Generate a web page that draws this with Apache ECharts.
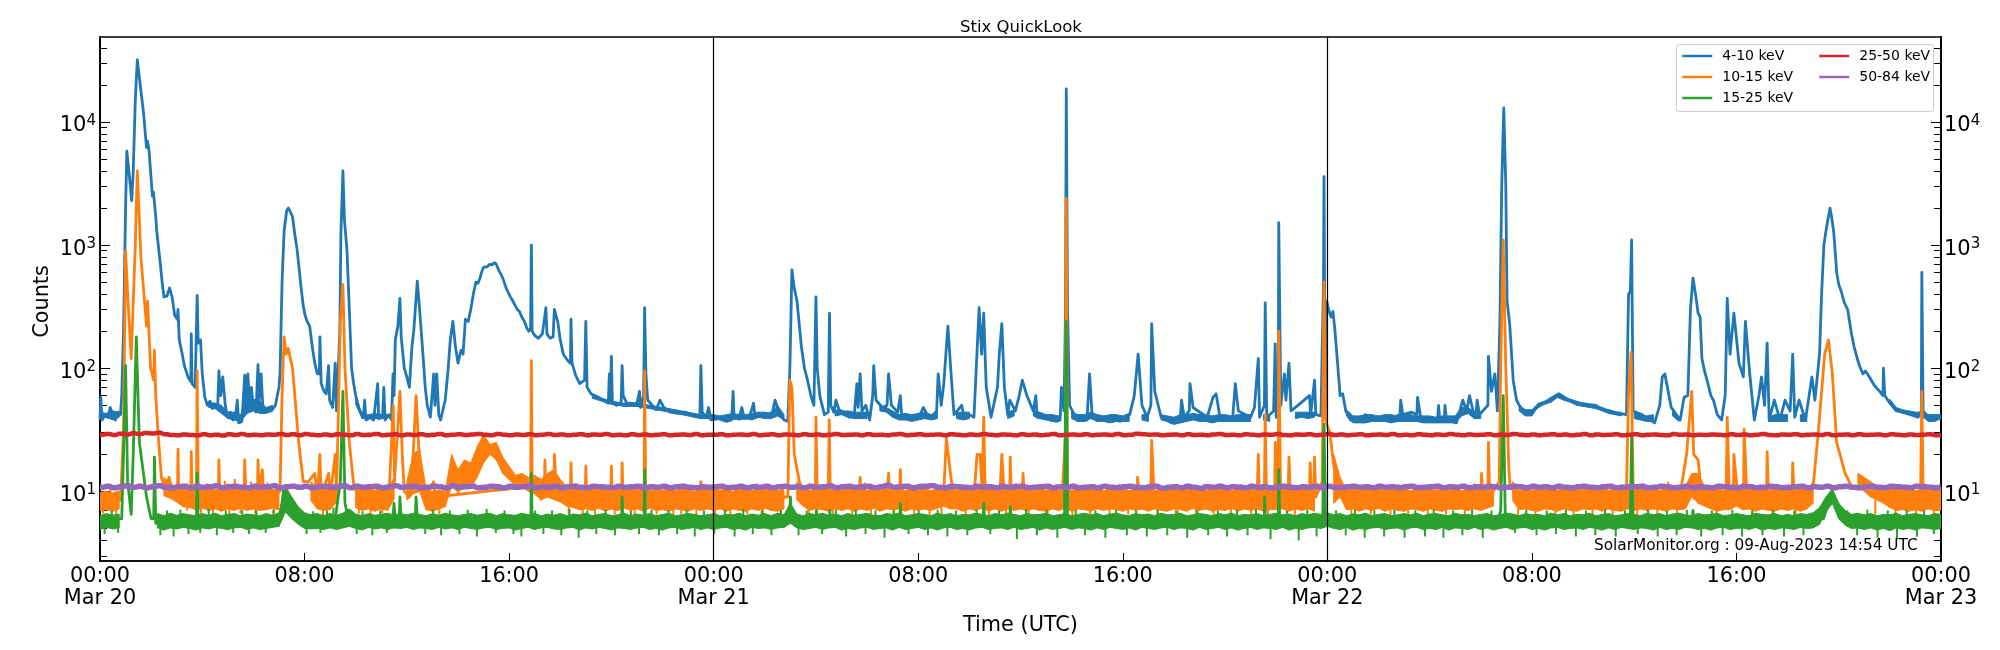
<!DOCTYPE html>
<html>
<head>
<meta charset="utf-8">
<script src="https://cdn.jsdelivr.net/npm/echarts@6/dist/echarts.min.js"></script>
<style>html,body{margin:0;padding:0;background:#fff}#chart{width:2000px;height:650px}</style>
</head>
<body>
<div id="chart"></div>
<script>
var seriesNames = ['4-10 keV', '10-15 keV', '15-25 keV', '25-50 keV', '50-84 keV'];
var seriesColors = ['#1f77b4', '#ff7f0e', '#2ca02c', '#d62728', '#9467bd'];
var hourTicks = [0, 8, 16, 24, 32, 40, 48, 56, 64, 72];
var hourLabels = ['00:00\nMar 20', '08:00', '16:00', '00:00\nMar 21', '08:00', '16:00', '00:00\nMar 22', '08:00', '16:00', '00:00\nMar 23'];
var dayLines = [24, 48];
var yMajorTicks = [10, 100, 1000, 10000];
var yMinorTicks = [3, 4, 5, 6, 7, 8, 9, 20, 30, 40, 50, 60, 70, 80, 90, 200, 300, 400, 500, 600, 700, 800, 900,
  2000, 3000, 4000, 5000, 6000, 7000, 8000, 9000, 20000, 30000, 40000];

// hour since Mar 20 00:00, counts
var blueTrace = [
  [0,38],[0.03,58],[0.08,38],[0.2,42],[0.3,40],[0.4,48],[0.5,42],[0.6,38],[0.7,44],[0.8,42],[0.85,60],[0.92,200],[1.0,2000],[1.05,5800],[1.12,4200],[1.24,2300],[1.3,4000],[1.38,15000],[1.46,32000],[1.55,22000],[1.7,12000],[1.82,6200],[1.86,7000],[1.92,5800],[2.05,2500],[2.09,2700],[2.13,2200],[2.18,1700],[2.22,1300],[2.28,1000],[2.36,700],[2.43,500],[2.5,380],[2.56,375],[2.62,385],[2.72,450],[2.82,380],[2.92,270],[3.02,250],[3.05,300],[3.1,170],[3.2,135],[3.3,105],[3.44,85],[3.55,78],[3.57,190],[3.6,75],[3.72,70],[3.8,390],[3.84,160],[3.93,170],[4.0,90],[4.1,58],[4.2,50],[4.3,54],[4.4,47],[4.5,50],[4.6,48],[4.65,95],[4.72,60],[4.8,85],[4.9,50],[4.97,42],[5.1,44],[5.2,38],[5.3,40],[5.37,55],[5.42,36],[5.55,37],[5.66,88],[5.7,48],[5.78,90],[5.85,50],[5.92,70],[6.0,48],[6.1,44],[6.18,107],[6.22,52],[6.3,90],[6.38,44],[6.5,46],[6.7,45],[6.86,50],[7.0,70],[7.04,90],[7.12,500],[7.2,1300],[7.3,1900],[7.37,2000],[7.45,1850],[7.53,1700],[7.6,1300],[7.7,950],[7.77,700],[7.85,480],[7.95,320],[8.02,270],[8.1,240],[8.2,220],[8.3,150],[8.4,110],[8.5,90],[8.58,90],[8.6,180],[8.65,75],[8.76,65],[8.85,62],[8.94,105],[8.98,55],[9.1,48],[9.2,110],[9.25,45],[9.38,200],[9.42,1200],[9.5,4000],[9.56,1600],[9.66,900],[9.75,300],[9.84,100],[9.92,75],[10.0,60],[10.15,46],[10.3,40],[10.35,55],[10.4,38],[10.55,40],[10.7,38],[10.86,75],[10.9,39],[11.05,40],[11.1,70],[11.15,38],[11.3,42],[11.4,38],[11.46,90],[11.5,60],[11.55,170],[11.65,220],[11.73,370],[11.78,180],[11.9,100],[12.0,85],[12.1,70],[12.2,150],[12.27,200],[12.41,510],[12.5,300],[12.63,130],[12.72,70],[12.8,50],[12.92,40],[13.05,90],[13.1,50],[13.17,90],[13.25,42],[13.32,38],[13.5,55],[13.6,90],[13.7,170],[13.8,240],[13.9,150],[14.0,110],[14.12,140],[14.2,130],[14.29,250],[14.4,240],[14.5,300],[14.6,400],[14.7,500],[14.78,490],[14.85,530],[14.92,600],[15.0,660],[15.06,680],[15.15,670],[15.25,700],[15.33,690],[15.42,720],[15.5,700],[15.6,620],[15.7,570],[15.78,520],[15.88,450],[15.95,420],[16.05,380],[16.15,350],[16.25,320],[16.32,300],[16.4,290],[16.5,260],[16.6,240],[16.7,210],[16.77,200],[16.84,210],[16.87,1000],[16.9,200],[17.0,185],[17.14,175],[17.3,190],[17.44,310],[17.48,190],[17.6,175],[17.72,180],[17.77,300],[17.9,240],[18.0,170],[18.12,130],[18.3,115],[18.4,110],[18.42,250],[18.46,110],[18.6,88],[18.76,75],[18.95,80],[19.0,240],[19.05,70],[19.2,62],[19.5,58],[19.7,55],[19.88,52],[19.92,90],[19.96,55],[20.0,125],[20.04,52],[20.2,50],[20.38,52],[20.42,105],[20.46,60],[20.6,52],[20.8,50],[21.0,52],[21.1,65],[21.14,48],[21.26,60],[21.3,310],[21.35,90],[21.42,55],[21.6,50],[21.75,46],[21.9,55],[22.05,48],[22.3,44],[22.6,43],[22.9,44],[23.2,41],[23.46,40],[23.5,105],[23.55,44],[23.7,40],[23.8,48],[23.9,38],[24.2,39],
  [24.5,37],[24.7,38],[24.76,65],[24.8,39],[25.0,40],[25.1,48],[25.2,39],[25.4,40],[25.56,52],[25.62,40],[25.9,41],[26.1,42],[26.3,44],[26.4,55],[26.55,44],[26.75,38],[26.9,37],[26.98,100],[27.06,630],[27.15,450],[27.26,350],[27.43,150],[27.55,100],[27.67,80],[27.8,60],[27.92,50],[28.0,380],[28.05,100],[28.15,60],[28.33,42],[28.48,44],[28.53,280],[28.58,50],[28.7,44],[28.78,55],[28.9,46],[29.1,44],[29.3,40],[29.5,42],[29.6,75],[29.65,48],[29.73,90],[29.8,45],[29.95,50],[30.1,38],[30.22,60],[30.26,105],[30.35,55],[30.6,48],[30.78,50],[30.84,90],[30.95,50],[31.2,44],[31.3,60],[31.35,42],[31.6,40],[32.0,39],[32.2,48],[32.35,42],[32.5,40],[32.72,45],[32.78,90],[32.9,50],[33.0,75],[33.16,220],[33.27,100],[33.4,42],[33.7,50],[33.8,40],[34.0,42],[34.18,40],[34.26,90],[34.38,310],[34.48,130],[34.56,280],[34.66,70],[34.85,40],[35.1,70],[35.17,130],[35.27,230],[35.37,70],[35.5,42],[35.58,55],[35.8,45],[35.95,60],[36.07,80],[36.25,60],[36.5,45],[36.6,60],[36.65,40],[36.9,40],[37.2,38],[37.4,37],[37.55,38],[37.6,70],[37.7,45],[37.76,300],[37.79,18600],[37.84,300],[37.92,50],[38.2,38],[38.6,38],[38.7,90],[38.8,42],[39.2,40],[39.6,39],[39.9,37],[40.27,42],[40.45,60],[40.6,130],[40.75,50],[40.95,40],[41.1,50],[41.13,230],[41.25,65],[41.5,40],[41.9,36],[42.25,40],[42.3,55],[42.4,40],[42.6,45],[42.63,75],[42.75,48],[43.3,40],[43.53,58],[43.65,62],[43.8,40],[44.3,40],[44.4,75],[44.52,45],[45.0,40],[45.15,48],[45.3,120],[45.35,40],[45.54,50],[45.57,340],[45.63,40],[45.9,45],[45.96,158],[46.0,40],[46.08,60],[46.1,1520],[46.18,50],[46.32,90],[46.38,55],[46.5,110],[46.58,45],[46.85,50],[47.3,60],[47.35,42],[47.5,80],[47.55,42],[47.75,41],[47.85,500],[47.87,3600],[47.92,40],[47.98,350],[48.05,300],
  [48.15,260],[48.22,290],[48.3,200],[48.4,110],[48.5,60],[48.6,62],[48.72,45],[48.9,38],[49.2,38],[49.5,42],[49.9,38],[50.3,38],[50.6,40],[50.84,42],[50.87,55],[50.95,42],[51.3,44],[51.5,42],[51.53,58],[51.65,40],[51.8,38],[52.1,37],[52.32,40],[52.35,50],[52.4,37],[52.58,40],[52.6,50],[52.66,38],[53.05,36],[53.3,55],[53.45,45],[53.56,60],[53.7,45],[53.8,40],[53.86,55],[53.95,42],[54.28,50],[54.3,125],[54.42,65],[54.55,90],[54.65,45],[54.75,240],[54.82,3000],[54.9,13000],[54.98,3000],[55.03,350],[55.13,230],[55.27,80],[55.4,55],[55.6,46],[55.9,42],[56.2,48],[56.45,52],[56.7,56],[57.05,62],[57.4,56],[57.9,52],[58.4,50],[58.9,46],[59.4,43],[59.7,42],[59.78,400],[59.85,420],[59.9,1100],[59.96,45],[60.3,42],[60.8,36],[61.0,50],[61.1,85],[61.2,90],[61.45,48],[61.8,38],[61.95,58],[62.1,60],[62.2,300],[62.3,540],[62.4,400],[62.5,280],[62.58,260],[62.65,120],[62.75,95],[62.85,80],[63.0,60],[63.1,55],[63.25,42],[63.42,38],[63.56,60],[63.64,370],[63.75,130],[63.9,280],[64.1,110],[64.27,85],[64.35,240],[64.52,90],[64.7,38],[64.88,60],[64.98,85],[65.1,50],[65.2,160],[65.28,38],[65.48,55],[65.7,38],[65.9,55],[66.1,45],[66.2,130],[66.28,40],[66.45,55],[66.7,38],[66.95,85],[67.07,55],[67.25,130],[67.33,400],[67.42,1000],[67.5,1300],[67.55,1500],[67.66,2000],[67.72,1700],[67.8,1300],[67.86,900],[67.92,600],[68.0,480],[68.1,420],[68.22,340],[68.35,300],[68.5,190],[68.6,150],[68.75,115],[68.85,100],[68.95,90],[69.05,95],[69.2,85],[69.4,72],[69.6,65],[69.73,60],[69.75,100],[69.8,60],[70.0,52],[70.25,45],[70.5,44],[70.8,42],[71.1,40],[71.23,45],[71.25,600],[71.3,45],[71.6,38],[72,40]
];
var orangeTrace = [
  [0,8.5],[0.8,8.5],[0.92,30],[1.0,900],[1.08,400],[1.22,120],[1.28,120],[1.38,1000],[1.46,4000],[1.6,800],[1.82,220],[1.86,350],[1.98,100],[2.1,80],[2.13,140],[2.18,60],[2.27,30],[2.4,13],[2.55,10.5],[2.7,13],[2.9,9],[3.03,9],[3.05,22],[3.08,9],[3.55,9],[3.57,21],[3.6,9],[3.77,9],[3.8,95],[3.84,10],[4.63,10],[4.65,18],[4.68,10],[5.64,10],[5.66,18],[5.7,10],[6.16,10],[6.18,18],[6.22,10],[6.35,15],[6.4,9],[7.04,10],[7.12,60],[7.2,180],[7.28,130],[7.36,145],[7.53,100],[7.62,60],[7.77,25],[7.95,12],[8.15,12],[8.4,14],[8.5,9],[8.6,20],[8.65,9],[8.94,14],[9.0,9],[9.2,20],[9.25,9],[9.4,240],[9.5,480],[9.58,100],[9.75,25],[9.93,11],[10.2,8.5],[11.3,9],[11.47,50],[11.52,12],[11.73,65],[11.82,20],[11.9,10],[12.1,9],[12.25,20],[12.36,60],[12.48,20],[12.7,9],[13.05,12],[13.1,9],[16.84,11],[16.87,115],[16.9,10],[17.38,10],[17.4,18],[17.43,10],[17.75,11],[17.77,20],[17.85,10],[18.4,10],[18.42,17],[18.45,10],[18.98,10],[19.0,16],[19.03,10],[19.98,10],[20.0,16],[20.03,10],[20.4,10],[20.42,17],[20.45,10],[21.28,10],[21.3,95],[21.34,10],[23.48,9],[23.5,12],[23.55,9],
  [26.9,9],[26.98,80],[27.06,70],[27.15,20],[27.35,12],[27.6,9],[27.98,10],[28,40],[28.05,10],[28.48,10],[28.52,38],[28.56,10],[29.7,10],[29.73,13],[29.78,9],[30.8,10],[30.84,14],[30.88,9],[31.28,10],[31.3,15],[31.34,9],[33.0,10],[33.1,27],[33.3,12],[33.45,9],[34.2,10],[34.3,20],[34.42,20],[34.5,10],[34.56,40],[34.62,10],[35.2,10],[35.27,20],[35.35,10],[35.58,10],[35.6,19],[35.64,9],[36.07,10],[36.1,14],[36.15,9],[37.6,10],[37.65,11],[37.76,30],[37.79,2400],[37.84,10],[40.55,10],[40.58,13],[40.65,9],[41.1,10],[41.13,26],[41.22,10],[45.26,10],[45.3,20],[45.34,9],[45.54,10],[45.57,42],[45.62,9],[45.94,10],[45.97,25],[46.0,9],[46.08,10],[46.1,200],[46.17,10],[46.47,10],[46.5,19],[46.55,9],[47.3,10],[47.33,17],[47.38,9],[47.47,10],[47.5,19],[47.55,9],[47.8,12],[47.87,500],[47.92,40],[47.98,35],[48.1,30],[48.22,18],[48.35,12],[48.5,9],
  [50.85,9],[50.9,11],[50.95,9],[54.0,9],[54.03,14],[54.08,9],[54.28,10],[54.3,25],[54.35,9],[54.72,12],[54.78,100],[54.88,1100],[54.98,100],[55.1,15],[55.15,11],[55.3,10],[59.7,10],[59.78,60],[59.88,135],[59.96,10],[61.1,10],[61.85,11],[62.05,20],[62.25,65],[62.33,20],[62.5,18],[62.65,9],[63.6,10],[63.64,40],[63.72,10],[63.88,10],[63.9,20],[64.02,11],[64.28,10],[64.3,32],[64.4,10],[65.18,10],[65.2,21],[65.25,9],[66.18,10],[66.2,17],[66.26,9],[67.0,11],[67.2,30],[67.45,130],[67.6,170],[67.75,90],[67.92,25],[68.25,14],[68.5,11],[71.2,9],[71.25,65],[71.3,10],[72,8.5]
];
var greenTrace = [
  [0,5.6],[0.85,6],[0.92,20],[1.0,105],[1.08,12],[1.22,6.5],[1.3,20],[1.42,180],[1.54,25],[1.82,9],[2.0,6],[2.1,6],[2.13,19],[2.18,5.5],[3.77,5.6],[3.8,14],[3.84,5.5],[7.04,6],[7.2,11],[7.4,8],[7.6,6],[9.2,6],[9.4,12],[9.5,65],[9.58,8],[9.75,5.5],[11.45,6],[11.5,8],[11.55,6],[11.7,6],[11.73,9],[11.78,6],[12.33,6],[12.36,9],[12.42,5.6],[16.85,6],[16.87,14],[16.9,5.6],[20.4,6],[20.42,9],[20.45,5.6],[21.28,6],[21.3,15],[21.33,5.6],
  [26.97,6],[27.0,9],[27.05,6],[28,6],[28.02,7],[28.05,5.6],[28.52,5.8],[28.54,7],[28.58,5.6],[31.28,5.8],[31.3,8],[31.33,5.6],[34.54,5.8],[34.56,8],[34.6,5.6],[35.58,5.8],[35.6,7.5],[35.64,5.6],[37.72,6],[37.79,240],[37.84,5.5],[45.53,5.8],[45.55,9],[45.58,5.6],[46.08,5.8],[46.1,15],[46.14,5.6],[47.82,6],[47.87,35],[47.93,6],
  [54.7,6],[54.78,7],[54.88,60],[54.96,6],[59.85,6],[59.9,28],[59.96,5.6],[62.27,5.8],[62.3,7],[62.35,5.6],[67.4,6],[67.75,10],[68,6.5],[72,5.6]
];

// short excursions off the noisy floor: hour, counts
var orangeFuzz = [
  [0.12,6.6],[0.41,10.8],[0.63,6.5],[3.22,11.4],[3.41,7],[3.95,6.6],[4.18,11.6],[4.42,6.5],[4.88,12.2],[5.06,6.4],[5.27,12.6],[5.49,6.6],[5.9,12],[6.07,6.5],[6.55,11.8],[6.81,6.6],[8.72,6.3],[10.12,6.6],[10.36,11.3],[10.58,6.4],[10.83,11],[11.04,6.6],[11.26,11.2],[13.27,6.4],[13.4,11],[17.21,8.4],[18.33,6.6],[18.62,11.6],[18.88,6.5],[19.14,11.2],[19.36,6.3],[19.71,11.5],[20.13,6.5],[20.66,11.3],[20.91,6.4],[21.52,11],[21.77,6.5],[22.14,11.2],[22.42,6.3],[22.73,6.5],[23.09,11.1],[23.32,6.4],[23.74,11.3],[24.06,6.5],[24.37,11.4],[24.65,6.3],[25.02,11.2],[25.31,6.5],[25.68,11.6],[25.93,6.4],[26.23,11.3],[26.61,6.5],[27.72,6.3],[28.21,11.2],[28.66,6.4],[29.07,11.4],[29.42,6.5],[29.9,11.8],[30.15,6.3],[30.52,11.4],[31.06,6.5],[31.57,11.3],[31.84,6.4],[32.12,11.6],[32.44,6.3],[32.91,6.5],[33.62,11.2],[33.86,6.4],[34.77,6.3],[34.95,11.4],[35.44,6.4],[35.83,11.7],[36.32,6.3],[36.71,11.4],[37.06,6.5],[37.39,11.5],[38.03,6.3],[38.31,11.2],[38.72,6.5],[39.11,11.4],[39.48,6.3],[39.86,11.5],[40.21,6.5],[40.83,11.2],[41.37,6.4],[41.72,11.3],[42.07,6.3],[42.43,11.4],[42.86,6.5],[43.18,11.5],[43.55,6.4],[43.92,11.2],[44.23,6.3],[44.61,11.5],[45.02,6.5],[45.68,6.3],[46.27,11.3],[46.73,6.4],[47.12,11.5],[48.62,11.4],[48.94,6.3],[49.33,11.2],[49.7,6.5],[50.12,11.4],[50.47,6.3],[50.78,11.5],[51.16,6.4],[51.58,11.3],[51.93,6.3],[52.27,11.5],[52.64,6.5],[53.02,11.2],[53.38,6.2],[53.74,11.6],[55.46,6.4],[55.82,11.3],[56.14,6.3],[56.53,11.4],[56.92,6.5],[57.28,11.3],[57.63,6.4],[58.03,11.5],[58.37,6.3],[58.78,11.3],[59.16,6.5],[59.52,11.4],[60.12,6.4],[60.48,11.2],[60.91,6.2],[61.32,12],[61.68,6.4],[63.22,6.4],[64.62,6.3],[64.92,11.4],[65.42,6.5],[65.82,11.3],[66.32,6.3],[66.63,11.3],[69.43,6.5],[69.86,11.2],[70.22,6.3],[70.62,11.3],[71.02,6.2],[71.44,11],[71.72,6.4]
];
var greenFuzz = [
  [0.18,4.5],[0.46,7],[0.71,4.6],[2.36,4.4],[2.62,7],[2.88,4.3],[3.14,7.1],[3.46,4.5],[3.92,4.6],[4.25,7.2],[4.57,4.4],[4.92,7],[5.21,4.6],[5.56,7.1],[5.83,4.5],[6.12,7],[6.48,4.6],[6.78,7.1],[8.08,4.5],[8.34,6.9],[8.62,4.6],[8.88,7],[9.13,7.4],[10.04,4.5],[10.27,6.9],[10.65,4.4],[10.96,7],[11.22,4.6],[12.72,4.5],[13.03,7.1],[13.34,4.4],[13.68,7],[14.06,4.5],[14.38,7.1],[14.74,4.3],[15.12,7.2],[15.48,4.6],[15.82,7],[16.17,4.5],[16.48,4.3],[17.02,7],[17.34,4.5],[17.68,7],[18.04,4.4],[18.36,7.2],[18.72,4.2],[19.06,7],[19.41,4.5],[19.78,7.1],[20.14,4.4],[20.76,7],[21.08,4.5],[21.57,7.1],[21.86,4.4],[22.23,7],[22.57,4.5],[22.94,7.1],[23.26,4.3],[23.62,7],[24.02,4.5],[24.44,7.1],[24.82,4.3],[25.16,7.2],[25.53,4.5],[25.88,7],[26.26,4.4],[26.63,7.1],[27.32,4.4],[27.64,7],[28.24,4.5],[28.78,7.1],[29.18,4.3],[29.56,7.1],[29.94,4.5],[30.33,7],[30.68,4.2],[31.04,7.1],[31.62,4.5],[32.02,7],[32.38,4.4],[32.76,7.1],[33.14,4.3],[33.48,7],[33.92,4.4],[34.28,7.1],[34.82,4.5],[35.16,7],[35.86,4.1],[36.22,7.2],[36.64,4.4],[37.02,7.1],[37.44,4.2],[38.16,7.1],[38.52,4.4],[38.93,7],[39.32,4.2],[39.74,7.1],[40.16,4.4],[40.52,7],[40.94,4.3],[41.36,7.1],[41.74,4.4],[42.14,7],[42.52,4.2],[42.92,7.1],[43.34,4.4],[43.72,7],[44.08,4.3],[44.47,7.1],[44.88,4.4],[45.21,7.2],[45.78,4.1],[46.42,7],[46.88,4],[47.22,7.1],[47.58,4.3],[48.34,7],[48.72,4.4],[49.08,7.1],[49.46,4.2],[49.84,7],[50.22,4.3],[50.62,7.1],[51.02,4.2],[51.44,7],[51.82,4.3],[52.16,7.1],[52.54,4.2],[52.92,7],[53.28,4.4],[53.66,7.1],[54.08,4.2],[54.42,7],[55.34,4.6],[55.78,7.1],[56.18,4.4],[56.58,7],[56.94,4.5],[57.33,7.1],[57.72,4.3],[58.12,7],[58.48,4.4],[58.86,7.1],[59.28,4.3],[59.64,7],[60.14,4.5],[60.54,7.1],[60.92,4.3],[61.28,7],[61.66,4.4],[62.06,7.1],[62.62,4.3],[63.04,7],[63.46,4.4],[63.84,7.1],[64.22,4.3],[64.62,7],[65.02,4.4],[65.42,7.1],[65.86,4.3],[66.26,7],[66.62,4.4],[68.34,7],[68.72,4.4],[69.12,7.1],[69.52,4.2],[69.92,7],[70.28,4.1],[70.66,7.1],[71.06,4.3],[71.34,7],[71.72,4.5]
];

// envelopes sampled every 15 min, one row is 3 hours
var bandStep = 0.25;
var blueLow = [
  39,40,38,40,null,null,null,null,null,null,null,null,
  null,null,null,null,null,48,47,43,39,38,37,43,
  45,43,43,45,null,null,null,null,null,null,null,null,
  null,null,null,null,51,39,39,39,39,39,null,null,
  null,null,null,null,null,37,null,null,null,null,null,null,
  null,null,null,null,null,null,null,null,null,null,null,null,
  null,null,null,null,null,57,55,53,51,50,49,49,
  49,48,47,46,45,44,43,42,41,40,39,39,
  38,39,37,39,38,39,38,40,39,39,41,38,
  null,null,null,null,null,null,null,41,42,40,39,39,
  39,null,45,44,40,38,38,37,38,39,38,39,
  null,null,39,38,39,null,null,38,null,null,39,41,
  null,null,41,39,38,37,37,null,39,37,37,39,
  37,37,36,37,37,37,null,38,37,null,38,37,
  35,36,37,38,37,37,36,37,37,37,37,37,
  37,null,38,37,null,null,null,39,40,39,40,null,
  null,null,null,41,36,36,36,37,37,37,36,37,
  37,37,37,36,36,36,36,36,36,41,43,39,
  39,null,null,null,null,null,45,41,41,49,51,53,
  58,55,53,50,49,48,47,45,43,42,41,null,
  39,38,37,37,null,null,41,37,null,null,null,null,
  null,38,null,null,null,null,null,37,null,37,37,37,
  37,null,37,37,null,null,null,null,null,null,null,null,
  null,null,null,null,51,45,43,42,41,41,37,37,
  39
];
var blueHigh = [
  44,43,45,44,null,null,null,null,null,null,null,null,
  null,null,null,null,null,53,52,50,44,44,42,56,
  56,54,48,50,null,null,null,null,null,null,null,null,
  null,null,null,null,58,42,42,43,42,42,null,null,
  null,null,null,null,null,42,null,null,null,null,null,null,
  null,null,null,null,null,null,null,null,null,null,null,null,
  null,null,null,null,null,60,58,56,54,53,52,53,
  52,51,50,49,48,47,46,45,44,43,42,42,
  42,41,42,43,42,42,43,44,44,43,50,42,
  null,null,null,null,null,null,null,46,45,45,44,44,
  44,null,50,48,45,42,43,42,43,44,42,44,
  null,null,44,44,44,null,null,43,null,null,44,46,
  null,null,46,44,42,42,41,null,44,42,42,44,
  42,41,42,42,41,43,null,42,42,null,42,41,
  40,42,42,43,42,42,41,42,42,41,42,42,
  42,null,42,42,null,null,null,44,44,44,44,null,
  null,null,null,46,41,41,42,42,41,42,42,41,
  42,42,41,41,41,40,41,41,41,48,48,44,
  44,null,null,null,null,null,50,46,46,52,54,57,
  62,58,56,53,52,51,51,47,45,44,44,null,
  44,42,41,42,null,null,48,40,null,null,null,null,
  null,42,null,null,null,null,null,40,null,40,42,42,
  42,null,42,42,null,null,null,null,null,null,null,null,
  null,null,null,null,56,48,46,45,44,44,42,42,
  42
];
var orangeLow = [
  7,7.1,6.9,7.2,null,null,null,null,null,null,9.2,8.8,
  8.2,7.5,7.4,7.1,7.3,7,7.2,6.9,7.2,7,7.3,7,
  7.2,7,7.1,7.3,7.1,null,null,null,null,8.4,7.2,7,
  7.1,8.2,null,null,7.4,7,7.2,6.9,7.2,7,8.6,null,
  8.5,9.5,10,7.1,6.9,7.2,7.5,11,9.8,11,10.6,13,
  17,20,18,14,12.5,11,11,10,9.5,8.5,9,8.6,
  8.2,7.6,7.4,7.1,7.2,7,7.3,6.9,7.2,7,7.3,7,
  7.2,6.9,7.3,7,7.1,6.9,7.2,7.1,6.9,7.2,7,7.2,
  7,7.2,6.9,7.2,7,6.9,7.2,7,7.3,7,6.9,7.2,
  null,8.5,7.6,7,7.2,7.1,6.9,7.2,7,7.2,6.9,7.2,
  7,7.3,6.9,7.2,7.1,7.2,6.9,7.2,7,7.2,7,7.3,
  7.6,7.2,7.2,6.9,7.2,7,7.3,6.9,7.2,6.9,7.2,7,
  7.2,7,7.2,7,6.9,7.2,7,7.3,6.9,7.2,7.1,6.9,
  7.2,7,7.2,7.1,6.9,7.2,7,7.2,6.9,7.2,7,6.9,
  7.2,7.1,6.9,7.3,7,7.2,6.9,7.1,7,7.3,6.9,7.2,
  7,7.2,6.9,7.1,7.1,7.2,6.9,7.2,7,7.2,6.9,null,
  null,8,9,7.1,7.2,6.9,7.2,7,7.3,6.9,7.2,7,
  6.9,7.2,7.1,6.9,7.2,7,6.9,7.2,7.1,7.2,7,7.2,
  7,7.3,7.6,null,null,8.4,7.1,7.2,7,6.9,7.2,7.1,
  6.9,7.2,7,6.9,7.2,7.1,7.2,6.9,7.2,7,6.9,7.2,
  7,7.2,7,7.2,7.1,6.9,7.2,7.1,7.2,9,8,7.6,
  7.2,6.9,7.1,7.1,7.6,7.1,7.2,6.9,7.2,7,6.9,7.2,
  7,7.2,6.9,7.2,8,null,null,null,null,null,null,11,
  10,9,8.5,8,7.4,7,7.1,6.9,7.1,6.9,7.2,7,
  7
];
var orangeHigh = [
  9.8,10,9.7,10.1,null,null,null,null,null,null,13,11.5,
  10.8,10.4,10.4,10.7,10.2,10.7,10.3,10.6,11.5,10.5,11.2,10.5,
  11.2,10.5,10.6,10.3,10.4,null,null,null,null,12,10.8,10.9,
  10.3,12,null,null,10.8,10.3,10.5,10.2,10.6,10.1,13,null,
  12,20,22,10.5,10,10.2,10,20,15,18,17,23,
  29,24,25,19,16,13.5,14,13,13.5,12.5,14,15,
  12.5,11,11,10.6,10.2,10.7,10.3,10.8,10.2,10.6,10.1,10.7,
  10.3,10.7,10,10.6,10.2,10.6,10.1,10.7,10.3,10,10.6,10.2,
  10.7,10.2,10.6,10,10.7,10.3,10.1,10.7,10.3,10.6,10.1,10.6,
  null,12,10.8,10.2,10.6,11,10.1,10.6,10.2,10.7,10.1,10.6,
  10.2,10.7,10.1,10.6,10.1,10.7,10.1,10.6,10.2,10.7,10.1,10.6,
  11,10.8,10.2,10.7,10.1,10.6,10.2,10.7,10.1,10.6,10.2,10.7,
  10.3,10.7,10.1,10.6,10.2,10.7,10.1,10.6,10.2,10.7,10.1,10.6,
  10.6,10.1,10.7,10.2,10.6,10.1,10.7,10.2,10.6,10.1,10.7,10.2,
  10.6,10.1,10.7,10.2,10.6,10.1,10.7,10.3,10.6,10.1,10.7,10.2,
  10.6,10.1,10.7,10.1,10.6,10.2,10.7,10.1,10.6,10.2,10.7,null,
  null,20,13,10.2,10.7,10.1,10.6,10.2,10.6,10.1,10.7,10.2,
  10.6,10.1,10.7,10.2,10.6,10.1,10.7,10.2,10.6,10.1,10.6,10.7,
  10.2,10.7,11,null,null,12,10.1,10.6,10.2,10.7,10.1,10.6,
  10.2,10.6,10.1,10.7,10.2,10.6,10.1,10.7,10.2,10.6,10.1,10.7,
  10.2,10.6,10.1,10.7,10.2,10.6,10.1,10.7,11,14,14,11,
  10.2,10.7,10.1,10.6,11,10.2,10.6,10.1,10.7,10.2,10.6,10.1,
  10.7,10.1,10.6,10.2,12,null,null,null,null,null,null,14,
  13,12,11,11,10.4,10.6,10.1,10.6,10.1,10.5,10.1,10.6,
  10.4
];
var greenLow = [
  4.9,5.1,4.95,5.05,null,null,null,null,null,5.05,4.85,5.05,
  4.95,5.1,5,4.85,5.05,4.95,5.1,5,4.9,5.05,5.1,4.9,
  5.05,4.9,5,5.1,5.2,6.8,6,5.4,5,4.95,5,4.9,
  5.05,4.9,5.05,5.2,5,4.85,5.1,4.95,5.05,4.9,5.05,5,
  5.1,4.9,5.05,5,4.9,5.1,4.95,5.05,4.9,5.1,5,4.9,
  5.05,5.1,4.9,5,5.05,4.85,5,5.1,4.9,5.05,5.1,4.95,
  4.9,5.05,5.1,4.85,5.05,4.95,5.1,5,4.85,5.05,5,4.9,
  5.05,5.1,4.9,5,4.85,5.05,5.1,4.9,5,5.1,4.9,5.05,
  4.9,5.05,5.1,4.9,5,4.85,5.1,5,5.05,4.9,5.05,5.1,
  5.5,5.05,4.9,5,5.1,4.9,5.05,5.1,4.85,5,4.9,5.05,
  5.1,4.9,5,5.05,4.85,5.1,4.9,5,5.1,4.9,5.05,4.85,
  5.05,5.1,4.9,5,4.85,5.05,5.1,4.9,5,5.05,4.9,5.1,
  4.9,5,5.1,4.85,5.05,4.9,5,5.1,4.9,5.05,5,4.85,
  5.05,4.9,5.1,5,4.9,5.05,4.85,5.1,5,4.9,5.05,5.1,
  4.9,5.05,5,4.85,5.1,4.9,5,5.1,4.9,5.05,4.85,5,
  5.1,4.9,5.05,5,4.9,5.1,4.85,5,4.9,5.05,5.1,5,
  5.2,5,4.9,5.1,4.85,5,4.9,5.05,5.1,4.9,5,5.05,
  4.85,5.05,5.1,4.9,5,4.9,5.1,4.85,5.05,5,4.9,5.1,
  4.9,5.05,4.85,5,5.1,4.9,5.05,5.1,4.9,5,4.85,5.05,
  5.1,4.9,5,5.05,4.9,5.1,5,4.85,5.05,4.9,5.1,5,
  4.9,5.05,5,4.85,5.1,4.9,5,4.9,5.1,5.05,4.9,5,
  4.85,5.05,5.1,4.9,5,5.05,4.9,5.1,4.85,5,4.9,5.05,
  5,4.9,5.1,5,5.05,5.4,6.8,8,6,5.3,5,5.05,
  4.9,5.05,4.85,5,4.8,5.05,4.9,5,4.85,5.05,5,4.9,
  5
];
var greenHigh = [
  6.35,6.6,6.4,6.55,null,null,null,null,null,6.6,6.35,6.65,
  6.4,6.6,6.45,6.35,6.6,6.4,6.65,6.35,6.5,6.6,6.35,6.55,
  6.45,6.35,6.6,6.4,6.7,11,9,7.5,6.7,6.45,6.6,6.35,
  6.6,6.4,6.65,7.2,6.55,6.35,6.6,6.4,6.5,6.65,6.4,6.6,
  6.45,6.65,6.5,6.35,6.6,6.4,6.65,6.45,6.35,6.5,6.6,6.4,
  6.55,6.65,6.35,6.6,6.45,6.4,6.65,6.45,6.6,6.35,6.55,6.4,
  6.6,6.35,6.55,6.45,6.65,6.35,6.5,6.6,6.35,6.45,6.65,6.35,
  6.55,6.4,6.6,6.35,6.5,6.65,6.35,6.45,6.6,6.5,6.35,6.45,
  6.6,6.35,6.5,6.45,6.65,6.35,6.55,6.4,6.6,6.35,6.65,6.45,
  8,6.55,6.35,6.6,6.45,6.65,6.4,6.55,6.35,6.6,6.4,6.5,
  6.65,6.4,6.35,6.6,6.5,6.65,6.35,6.45,6.6,6.5,6.35,6.65,
  6.45,6.6,6.35,6.5,6.45,6.65,6.5,6.35,6.6,6.45,6.65,6.5,
  6.35,6.6,6.45,6.5,6.65,6.35,6.45,6.6,6.35,6.5,6.65,6.45,
  6.6,6.35,6.55,6.65,6.45,6.35,6.6,6.45,6.55,6.35,6.65,6.45,
  6.5,6.65,6.35,6.45,6.6,6.5,6.35,6.6,6.45,6.65,6.35,6.5,
  6.45,6.6,6.35,6.5,6.65,6.45,6.55,6.35,6.6,6.45,6.65,6.5,
  6.7,6.45,6.6,6.35,6.55,6.45,6.65,6.35,6.5,6.6,6.35,6.45,
  6.6,6.45,6.65,6.35,6.55,6.6,6.45,6.35,6.65,6.45,6.5,6.35,
  6.5,6.6,6.35,6.45,6.65,6.55,6.35,6.6,6.45,6.5,6.35,6.65,
  6.45,6.6,6.35,6.5,6.45,6.65,6.35,6.5,6.6,6.35,6.45,6.6,
  6.5,6.35,6.65,6.45,6.6,6.35,6.55,6.65,6.45,6.35,6.6,6.45,
  6.5,6.65,6.35,6.45,6.6,6.45,6.35,6.65,6.5,6.45,6.6,6.35,
  6.5,6.35,6.6,6.5,6.7,7.4,9,10.5,8,7,6.5,6.65,
  6.45,6.6,6.35,6.5,6.45,6.65,6.35,6.5,6.6,6.45,6.35,6.6,
  6.5
];
var redValues = [
  28.8,29.3,28.7,29.4,29,29.6,29.2,29.8,29.5,29.9,29.1,28.7,
  28.6,29,28.7,28.5,29.1,28.6,28.9,28.4,29.1,28.7,29.2,28.6,
  28.9,28.5,29,28.8,29.3,28.7,29.1,28.6,29.2,28.8,28.5,29,
  28.6,29.1,28.8,28.5,29.2,28.7,28.9,29.3,28.6,28.8,29.1,28.5,
  29,28.7,29.1,28.6,28.9,29.2,28.5,28.9,29.1,28.7,29,29.3,
  28.8,28.6,29.2,28.9,28.5,29,28.7,29.1,28.6,28.9,29.2,28.7,
  29,28.5,28.8,29.1,28.6,29,28.8,29.2,28.6,28.9,28.5,29.1,
  28.7,29,28.6,28.9,29.1,28.5,28.8,29,28.7,29.2,28.6,28.9,
  28.8,29.1,28.5,28.9,29,28.7,29.2,28.6,28.8,29.1,28.5,29,
  28.9,28.6,29.1,28.7,29,28.5,28.9,29.2,28.7,28.8,29,28.6,
  29.1,28.7,28.9,28.5,29,29.2,28.6,28.8,29.1,28.7,28.9,29,
  28.6,29.1,28.8,28.5,29,28.7,29.2,28.9,28.6,29,28.8,28.5,
  29.1,28.7,29,28.6,28.9,29.2,28.5,28.8,29,28.7,29.1,28.6,
  28.9,29,28.7,29.3,28.6,28.8,29.4,29.1,28.9,29,28.6,28.8,
  29,28.5,29.1,28.7,28.9,28.6,29,29.2,28.7,28.8,28.5,29.1,
  28.9,28.6,29,28.8,29.2,28.7,28.5,29,28.8,29.1,28.6,28.9,
  29.2,28.7,29,28.6,28.9,29.1,28.5,28.8,29,28.7,29.2,28.6,
  28.9,28.5,29.1,28.8,28.6,29,28.7,29.2,28.9,28.5,29,28.7,
  28.8,29.1,28.6,29,28.7,29.3,28.9,28.5,29,28.6,28.9,29.1,
  28.7,29,28.5,28.8,29.2,28.6,29,28.7,28.9,29.1,28.5,28.8,
  29.1,28.6,28.9,29,28.7,28.5,29.2,28.8,29,28.6,28.9,28.7,
  29,28.8,28.5,29.1,28.7,29,28.6,28.9,29.2,28.7,28.5,29,
  28.8,29.1,28.6,28.9,29,28.7,29.2,28.5,28.8,29,28.6,29.1,
  28.7,28.9,29,28.5,29.1,28.8,28.6,29,28.7,28.9,29.1,28.6,
  28.8
];
var purpleValues = [
  10.8,11,10.7,10.9,11.1,10.8,11,10.7,10.9,11.1,10.8,10.7,
  10.9,11,10.7,11,10.8,10.9,11.1,10.7,10.9,11,10.8,10.7,
  11,10.8,10.9,11.1,10.7,10.9,11,10.8,11,10.7,10.9,11,
  10.8,10.9,11.1,10.7,11,10.8,10.9,11,10.7,10.9,11.1,10.8,
  10.9,11,10.7,10.8,11,10.9,10.7,11.1,10.8,10.9,11,10.7,
  10.8,11,10.9,10.7,11,10.8,10.9,11.1,10.7,10.9,10.8,11,
  10.7,10.9,11,10.8,10.7,11,10.9,10.8,10.7,11,10.8,10.9,
  11,10.7,10.9,10.8,11,10.7,10.9,11,10.8,10.7,10.9,10.8,
  10.9,11,10.7,10.8,11,10.7,10.9,10.8,11,10.7,10.9,11,
  10.8,10.9,10.7,11,10.8,10.9,11.1,10.7,10.9,11,10.8,10.9,
  11,10.7,10.9,11.2,10.8,10.9,11,10.7,10.9,11,11.1,10.8,
  10.7,11,10.9,10.8,10.7,11,10.8,10.9,10.7,11,10.8,10.9,
  11,10.7,10.8,10.9,11,10.7,10.9,10.8,11,10.7,10.8,10.9,
  10.7,11,10.8,10.7,10.9,11,10.8,10.7,10.9,11,10.6,10.8,
  10.9,10.7,11,10.8,10.6,10.9,10.8,11,10.7,10.9,10.8,10.7,
  11,10.8,10.9,10.7,10.9,11,10.8,10.7,10.9,10.8,11,10.7,
  11,10.8,10.7,10.9,11,10.8,10.9,10.7,11,10.8,10.9,10.7,
  10.9,11,10.7,10.8,10.9,11,10.7,10.9,10.8,11,10.7,10.9,
  10.8,11,10.9,10.7,10.8,11,10.9,10.7,11,10.8,10.9,10.7,
  11,10.8,10.7,10.9,11,10.8,10.7,10.9,11,10.7,10.8,10.9,
  10.9,11,10.7,10.8,11,10.9,10.7,10.8,11,10.7,10.9,10.8,
  10.7,11,10.9,10.8,10.7,11,10.9,10.7,10.8,11,10.9,10.7,
  10.8,10.9,11,10.7,10.9,10.8,11,10.7,10.9,11,10.8,10.7,
  10.9,11,10.8,10.7,11,10.9,10.8,10.7,11,10.9,10.8,10.7,
  10.9
];

var YMIN = 2.72, YMAX = 49000;

function sampled(values) {
  return values.map(function (v, i) { return [i * bandStep, v]; });
}

function bandRows(low, high) {
  var rows = [];
  for (var i = 0; i < low.length - 1; i++) {
    if (low[i] == null || low[i + 1] == null) continue;
    rows.push([i * bandStep, low[i], high[i], (i + 1) * bandStep, low[i + 1], high[i + 1]]);
  }
  return rows;
}

function bandSeries(low, high, color) {
  return {
    type: 'custom',
    silent: true,
    clip: true,
    data: bandRows(low, high),
    encode: { x: [0, 3], y: [1, 2, 4, 5] },
    renderItem: function (params, api) {
      var pts = [
        api.coord([api.value(0), api.value(1)]),
        api.coord([api.value(3), api.value(4)]),
        api.coord([api.value(3), api.value(5)]),
        api.coord([api.value(0), api.value(2)])
      ];
      return { type: 'polygon', shape: { points: pts }, style: { fill: color, stroke: color, lineWidth: 1 } };
    }
  };
}

// a short stroke from the middle of the floor out to the typed value
function fuzzSeries(points, floor, color) {
  return {
    type: 'custom',
    silent: true,
    clip: true,
    data: points,
    encode: { x: 0, y: 1 },
    renderItem: function (params, api) {
      var a = api.coord([api.value(0), floor]);
      var b = api.coord([api.value(0), api.value(1)]);
      return { type: 'line', shape: { x1: a[0], y1: a[1], x2: b[0], y2: b[1] }, style: { stroke: color, lineWidth: 2, fill: null } };
    }
  };
}

function lineSeries(idx, data, width) {
  return {
    name: seriesNames[idx],
    type: 'line',
    data: data,
    symbol: 'none',
    sampling: 'none',
    clip: true,
    lineStyle: { width: width, color: seriesColors[idx], join: 'round' },
    itemStyle: { color: seriesColors[idx] }
  };
}

function yAxis(position, ticks, length, showLabel) {
  return {
    type: 'log',
    logBase: 10,
    min: YMIN,
    max: YMAX,
    position: position,
    splitLine: { show: false },
    axisLine: { show: true, lineStyle: { color: '#000', width: 1.5 } },
    axisTick: { inside: true, length: length, customValues: ticks, lineStyle: { color: '#000', width: 1 } },
    axisLabel: {
      show: showLabel,
      customValues: yMajorTicks,
      margin: position === 'left' ? 4 : 3,
      padding: [8, 0, 0, 0],
      fontFamily: 'DejaVu Sans',
      formatter: function (v) {
        return '{b|10}{s|' + Math.round(Math.log(v) / Math.LN10) + '}';
      },
      rich: {
        b: { fontSize: 21, fontFamily: 'DejaVu Sans', color: '#000' },
        s: { fontSize: 15, fontFamily: 'DejaVu Sans', color: '#000', padding: [0, 0, 10, 0] }
      }
    }
  };
}

function legendColumn(names, left) {
  return {
    data: names,
    orient: 'vertical',
    left: left,
    top: 49,
    padding: 0,
    itemWidth: 30,
    itemHeight: 14,
    itemGap: 7,
    itemStyle: { opacity: 0 },
    lineStyle: { width: 2.5, opacity: 1 },
    textStyle: { fontFamily: 'DejaVu Sans', fontSize: 14, color: '#000', padding: [0, 0, 0, 5] }
  };
}

var blue = lineSeries(0, blueTrace, 2.8);
blue.markLine = {
  silent: true,
  symbol: 'none',
  animation: false,
  label: { show: false },
  lineStyle: { color: '#000', width: 1.2, type: 'solid' },
  data: dayLines.map(function (h) { return { xAxis: h }; })
};

var redLine = lineSeries(3, sampled(redValues), 4.5);
redLine.step = 'middle';
var purpleLine = lineSeries(4, sampled(purpleValues), 5.5);
purpleLine.step = 'middle';

var leftMajor = yAxis('left', yMajorTicks, 10, true);
leftMajor.name = 'Counts';
leftMajor.nameLocation = 'middle';
leftMajor.nameGap = 47;
leftMajor.nameMoveOverlap = false;
leftMajor.nameTextStyle = { fontFamily: 'DejaVu Sans', fontSize: 20.8, color: '#000', padding: [0, 5, 0, 0] };

var chart = echarts.init(document.getElementById('chart'));
chart.setOption({
  animation: false,
  backgroundColor: '#fff',
  title: {
    text: 'Stix QuickLook',
    left: 1016,
    top: 14,
    textAlign: 'center',
    textStyle: { fontFamily: 'DejaVu Sans', fontSize: 16.5, fontWeight: 'normal', color: '#000' }
  },
  legend: [
    legendColumn(seriesNames.slice(0, 3), 1681),
    legendColumn(seriesNames.slice(3), 1818)
  ],
  grid: { left: 100, right: 59, top: 37, bottom: 89, show: true, borderColor: '#000', borderWidth: 1.5, backgroundColor: 'transparent' },
  xAxis: {
    type: 'value',
    min: 0,
    max: 72,
    interval: 8,
    name: 'Time (UTC)',
    nameLocation: 'middle',
    nameGap: 50,
    nameTextStyle: { fontFamily: 'DejaVu Sans', fontSize: 20.8, color: '#000' },
    splitLine: { show: false },
    axisLine: { show: true, lineStyle: { color: '#000', width: 1.5 } },
    axisTick: { inside: true, length: 8, lineStyle: { color: '#000', width: 1 } },
    axisLabel: {
      margin: 5,
      fontFamily: 'DejaVu Sans',
      fontSize: 20.8,
      lineHeight: 22,
      color: '#000',
      showMinLabel: true,
      showMaxLabel: true,
      hideOverlap: false,
      formatter: function (v) { return hourLabels[hourTicks.indexOf(v)]; }
    }
  },
  yAxis: [
    leftMajor,
    yAxis('right', yMajorTicks, 10, true),
    yAxis('left', yMinorTicks, 7, false),
    yAxis('right', yMinorTicks, 7, false)
  ],
  series: [
    bandSeries(blueLow, blueHigh, seriesColors[0]),
    blue,
    bandSeries(orangeLow, orangeHigh, seriesColors[1]),
    fuzzSeries(orangeFuzz, 8.5, seriesColors[1]),
    lineSeries(1, orangeTrace, 2.8),
    bandSeries(greenLow, greenHigh, seriesColors[2]),
    fuzzSeries(greenFuzz, 5.6, seriesColors[2]),
    lineSeries(2, greenTrace, 2.8),
    redLine,
    purpleLine
  ],
  graphic: [{
    type: 'rect',
    left: 1676,
    top: 44,
    z: 3,
    silent: true,
    shape: { width: 257, height: 67, r: 3 },
    style: { fill: 'rgba(255,255,255,0.8)', stroke: '#ccc', lineWidth: 1 }
  }, {
    type: 'text',
    left: 1594,
    top: 539,
    silent: true,
    z: 100,
    style: { text: 'SolarMonitor.org : 09-Aug-2023 14:54 UTC', font: '15.3px "DejaVu Sans"', fill: '#000' }
  }]
});
</script>
</body>
</html>
